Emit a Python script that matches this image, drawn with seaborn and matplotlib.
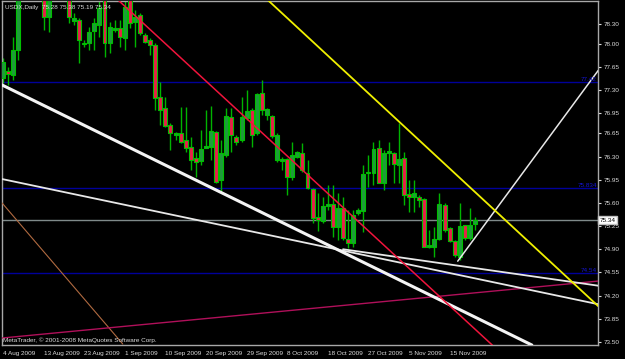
import numpy as np
import pandas as pd
import matplotlib
matplotlib.use("Agg")
import matplotlib.pyplot as plt
import seaborn as sns

# ---------------- data ----------------
opens = [77.48, 77.59, 77.53, 77.91, 78.75, 78.95, 78.85, 79.00, 78.80, 78.41,
         78.75, 78.90, 78.95, 78.80, 78.35, 78.36, 78.00, 78.01, 78.19, 78.28,
         78.75, 78.01, 78.21, 78.24, 78.09, 78.70, 78.33, 78.44, 78.13, 78.06,
         77.98, 77.20, 77.03, 76.78, 76.62, 76.65, 76.55, 76.44, 76.28, 76.23,
         76.43, 76.44, 76.67, 75.94, 76.32, 76.90, 76.59, 76.55, 76.88, 77.00,
         76.65, 77.26, 76.93, 76.91, 76.25, 76.23, 76.26, 75.99, 76.29, 76.35,
         76.05, 75.81, 75.39, 75.33, 75.55, 75.58, 75.24, 75.52, 75.05, 74.99,
         75.45, 75.48, 76.05, 76.05, 76.43, 75.90, 76.35, 76.35, 76.17, 76.28,
         75.73, 75.69, 75.69, 75.66, 74.93, 74.93, 75.05, 75.57, 75.22, 75.02,
         74.78, 75.27, 75.07, 75.28]
highs = [77.79, 77.65, 78.10, 78.85, 79.05, 79.10, 79.10, 79.05, 78.90, 78.85,
         79.00, 79.05, 79.00, 78.85, 78.46, 78.39, 78.06, 78.25, 78.39, 78.68,
         78.85, 78.33, 78.36, 78.36, 78.70, 78.80, 78.51, 78.46, 78.16, 78.09,
         78.01, 77.42, 77.20, 76.81, 76.67, 77.05, 77.05, 76.59, 76.37, 76.70,
         77.00, 77.06, 76.69, 76.55, 77.03, 77.03, 76.62, 77.20, 77.30, 77.03,
         77.26, 77.45, 77.03, 76.93, 76.65, 76.29, 76.28, 76.52, 76.38, 76.50,
         76.25, 75.82, 75.75, 75.69, 75.87, 75.87, 75.75, 75.69, 75.49, 75.49,
         75.52, 76.17, 76.32, 76.52, 76.55, 76.40, 76.52, 76.37, 76.81, 76.37,
         75.94, 75.94, 75.72, 75.67, 75.19, 75.24, 75.75, 75.60, 75.24, 75.04,
         75.60, 75.27, 75.52, 75.38]
lows = [77.41, 77.38, 77.45, 77.76, 78.70, 78.72, 78.75, 78.70, 78.21, 78.18,
        78.70, 78.72, 78.70, 78.31, 78.28, 77.71, 77.95, 77.91, 77.91, 78.10,
        77.80, 77.86, 78.18, 77.95, 77.91, 78.24, 77.95, 78.13, 78.01, 77.83,
        77.00, 76.78, 76.75, 76.40, 76.55, 76.50, 76.37, 76.10, 75.99, 76.17,
        76.43, 76.25, 75.90, 75.76, 76.29, 76.37, 76.47, 76.52, 76.85, 76.44,
        76.62, 76.93, 76.85, 76.58, 76.22, 76.10, 75.72, 75.94, 76.28, 76.07,
        75.81, 75.30, 75.18, 75.30, 75.49, 75.08, 75.04, 75.04, 74.92, 74.93,
        75.42, 75.16, 75.84, 75.87, 75.90, 75.79, 76.17, 75.90, 75.90, 75.57,
        75.46, 75.46, 75.54, 74.93, 74.92, 74.78, 75.04, 75.16, 75.01, 74.78,
        74.74, 75.04, 75.04, 75.19]
closes = [77.73, 77.55, 77.91, 78.75, 78.95, 78.85, 79.00, 78.80, 78.41, 78.75,
          78.90, 78.95, 78.80, 78.41, 78.39, 78.06, 78.01, 78.18, 78.31, 78.54,
          78.01, 78.25, 78.24, 78.10, 78.56, 78.31, 78.41, 78.16, 78.03, 77.98,
          77.18, 77.00, 76.76, 76.65, 76.65, 76.52, 76.43, 76.25, 76.22, 76.41,
          76.46, 76.69, 75.91, 76.35, 76.91, 76.62, 76.52, 76.90, 76.99, 76.62,
          77.24, 77.00, 77.02, 76.61, 76.62, 76.26, 75.99, 76.32, 76.37, 76.10,
          75.82, 75.37, 75.34, 75.55, 75.58, 75.24, 75.52, 75.07, 74.99, 75.42,
          75.49, 76.04, 76.07, 76.41, 75.90, 76.35, 76.38, 76.19, 76.26, 75.72,
          75.69, 75.75, 75.64, 74.93, 74.96, 75.05, 75.58, 75.19, 75.02, 74.81,
          75.25, 75.07, 75.27, 75.34]

date_tick_bars = [0, 8, 16, 24, 32, 40, 48, 56, 64, 72, 80, 88]
date_tick_labels = ["4 Aug 2009", "13 Aug 2009", "23 Aug 2009", "1 Sep 2009",
                    "10 Sep 2009", "20 Sep 2009", "29 Sep 2009", "8 Oct 2009",
                    "18 Oct 2009", "27 Oct 2009", "5 Nov 2009", "15 Nov 2009"]
price_ticks = [78.30, 78.00, 77.65, 77.30, 76.95, 76.65, 76.30, 75.95, 75.60,
               75.25, 74.90, 74.55, 74.20, 73.85, 73.50]

level_prices = [77.42, 75.83, 74.54]
level_labels = ["77.42", "75.834", "74.54"]
last_price = 75.34

# trend lines: (bar positions, prices)
trend_red_x, trend_red_y = [22.7, 100.0], [78.66, 73.20]
trend_yellow_x, trend_yellow_y = [52.2, 117.3], [78.66, 74.04]
trend_thick_x, trend_thick_y = [-0.2, 104.2], [77.38, 73.455]
trend_white_a_x, trend_white_a_y = [-0.2, 117.3], [75.96, 74.07]
trend_white_b_x, trend_white_b_y = [67.0, 117.3], [74.90, 74.35]
trend_rise_x, trend_rise_y = [89.6, 117.3], [74.72, 77.60]
trend_brown_x, trend_brown_y = [-0.2, 23.6], [75.60, 73.47]
trend_magenta_x, trend_magenta_y = [-0.2, 117.3], [73.56, 74.42]

# ---------------- style ----------------
sns.set_theme(style="dark")
plt.rcParams["font.family"] = ["Liberation Sans", "DejaVu Sans"]
TXT = "#dcdcdc"
FS = 4.6

fig = plt.figure(figsize=(6.25, 3.59), dpi=100, facecolor="black")
ax = fig.add_axes([2 / 625, 14 / 359, 596 / 625, 344 / 359])
ax.set_facecolor("black")
ax.grid(False)

df = pd.DataFrame({"bar": np.arange(len(opens)), "open": opens, "high": highs,
                   "low": lows, "close": closes})
df["bull"] = df["close"] >= df["open"]

# wicks
ax.vlines(df["bar"], df["low"], df["high"], color="#00b400", linewidth=1, zorder=2)
# bodies
body_bottom = np.minimum(df["open"], df["close"])
body_h = np.maximum(np.abs(df["close"] - df["open"]), 0.02)
face = np.where(df["bull"], "#1f9a3c", "#e8204a")
ax.bar(df["bar"], body_h, bottom=body_bottom, width=0.78, color=face,
       edgecolor="#00c000", linewidth=0.8, zorder=3)

# horizontal levels
for p, lab in zip(level_prices, level_labels):
    ax.axhline(p, color="#00009a", linewidth=1, zorder=1)
    ax.text(0.998, p, lab, transform=ax.get_yaxis_transform(), ha="right",
            va="bottom", color="#1414d0", fontsize=FS, zorder=6)
ax.axhline(last_price, color="#7f8a8a", linewidth=1, zorder=1)

# trend lines via seaborn
lines = [
    (trend_brown_x, trend_brown_y, "#b06a40", 0.8),
    (trend_magenta_x, trend_magenta_y, "#b0105a", 1.0),
    (trend_white_a_x, trend_white_a_y, "#e8e8e8", 1.3),
    (trend_white_b_x, trend_white_b_y, "#e8e8e8", 1.3),
    (trend_thick_x, trend_thick_y, "#f4f4f4", 2.2),
    (trend_rise_x, trend_rise_y, "#e8e8e8", 1.1),
    (trend_red_x, trend_red_y, "#f0143c", 1.1),
    (trend_yellow_x, trend_yellow_y, "#f0f000", 1.3),
]
for xs, ys, c, w in lines:
    sns.lineplot(x=xs, y=ys, ax=ax, color=c, linewidth=w,
                 estimator=None, sort=False, zorder=4)

ax.set_xlim(-0.197, 117.24)
ax.set_ylim(73.455, 78.647)

# axes decorations
for s in ax.spines.values():
    s.set_color("#a8a8a8")
    s.set_linewidth(1)
ax.yaxis.tick_right()
ax.set_yticks(price_ticks)
ax.set_yticklabels([f"{v:.2f}" for v in price_ticks])
ax.set_xticks(date_tick_bars)
ax.set_xticklabels(date_tick_labels, ha="left")
ax.tick_params(axis="both", colors=TXT, labelsize=FS, length=2.5, width=0.8,
               direction="out", pad=1.5)
ax.set_xlabel("")
ax.set_ylabel("")

# current price box
ax.text(1.003, last_price, f"{last_price:.2f}", transform=ax.get_yaxis_transform(),
        ha="left", va="center", color="black", fontsize=FS,
        bbox=dict(boxstyle="square,pad=0.25", facecolor="white", edgecolor="#c0c0c0"),
        clip_on=False, zorder=10)

fig.text(5 / 625, 1 - 7 / 359, "USDX,Daily  75.28 75.38 75.19 75.34", color=TXT,
         fontsize=FS, va="center", ha="left")
fig.text(3 / 625, 1 - 340 / 359, "MetaTrader, © 2001-2008 MetaQuotes Software Corp.",
         color=TXT, fontsize=FS, va="center", ha="left")

fig.savefig("out.png", dpi=100, facecolor="black")
